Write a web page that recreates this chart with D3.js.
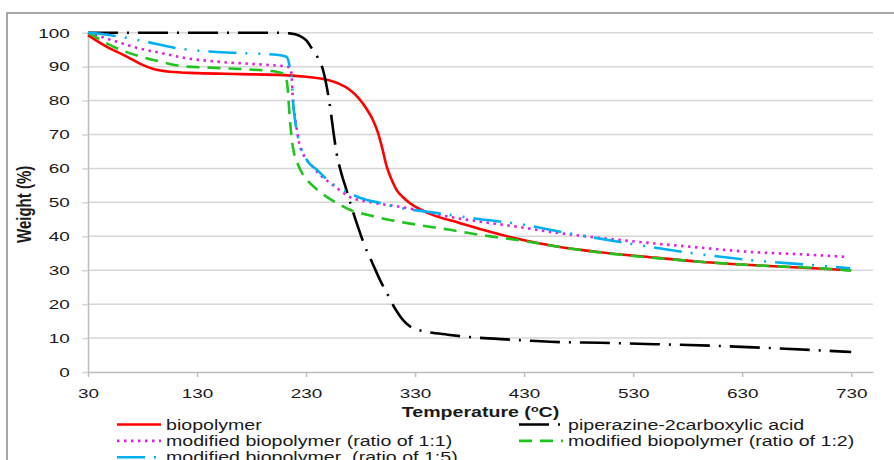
<!DOCTYPE html>
<html>
<head>
<meta charset="utf-8">
<script src="https://cdn.jsdelivr.net/npm/d3@7"></script>
<style>
  body { margin: 0; background: #fff; }
  text { font-family: "Liberation Sans", Arial, sans-serif; fill: #1a1a1a; white-space: pre; }
</style>
</head>
<body>
<script>
// tick labels
const tempTicks = [30, 130, 230, 330, 430, 530, 630, 730];
const weightTicks = [0, 10, 20, 30, 40, 50, 60, 70, 80, 90, 100];

// biopolymer
const bioTemp = [30, 47, 66, 78, 90, 105, 130, 170, 210, 230, 247, 260, 270, 278, 286, 291, 296, 300, 304, 309, 313, 319, 325, 335, 346, 370, 392, 429, 460, 500, 550, 591, 650, 700, 730];
const bioWeight = [99.3, 95.9, 92.9, 90.8, 89.3, 88.5, 88.1, 87.8, 87.5, 87.0, 86.3, 85.0, 83.2, 80.8, 77.3, 74.5, 70.5, 65.8, 60.5, 56.3, 53.7, 51.5, 49.8, 47.9, 46.3, 44.0, 41.9, 38.9, 37.0, 35.3, 33.7, 32.5, 31.3, 30.5, 30.0];

// piperazine-2carboxylic acid
const pipTemp = [30, 100, 180, 203, 215, 224, 230, 236, 241, 246, 249, 252, 255, 258, 262, 267, 272, 278, 284, 291, 298, 305, 312, 319, 326, 334, 341, 360, 380, 420, 454, 500, 550, 607, 660, 730];
const pipWeight = [100, 100, 100, 100, 99.8, 99.1, 97.8, 95, 92.5, 88.5, 84, 78.2, 71, 64.5, 59, 53.7, 48.3, 42.4, 37, 32, 27, 22.7, 18.5, 15.3, 13.3, 12.3, 11.8, 11, 10.3, 9.5, 8.9, 8.6, 8.2, 7.7, 7.0, 5.9];

// modified biopolymer (1:1)
const mod11Temp = [30, 40, 57, 75, 96, 120, 151, 180, 200, 213, 216, 217, 218, 220, 222, 224, 227, 231, 236, 243, 252, 260, 270, 290, 316, 340, 362, 390, 424, 454, 500, 546, 590, 637, 690, 727];
const mod11Weight = [100, 99, 97.3, 95.5, 94.1, 92.5, 91.4, 90.8, 90.4, 90, 89.3, 86, 80, 75, 70.5, 67, 64.5, 62.3, 60.5, 58, 55.7, 53.8, 51.6, 50, 48.7, 47.2, 45.7, 44.3, 42.8, 41.3, 39.5, 38, 36.7, 35.4, 34.6, 33.9];

// modified biopolymer (1:2)
const mod12Temp = [30, 40, 50, 78, 96, 117, 142, 170, 194, 203, 211, 213, 215, 217, 219, 222, 226, 231, 240, 249, 260, 270, 288, 307, 330, 362, 390, 424, 460, 500, 550, 600, 650, 700, 730];
const mod12Weight = [100, 98.2, 96.4, 93, 91.5, 90.1, 89.7, 89.3, 88.8, 88.5, 87.6, 84, 75.2, 68.4, 64.5, 61.6, 58.8, 56.6, 53.8, 51.6, 49.5, 47.8, 46.2, 44.8, 43.5, 41.9, 40.4, 38.9, 37.0, 35.2, 33.6, 32.3, 31.3, 30.6, 29.9];

// modified biopolymer (1:5)
const mod15Temp = [30, 41, 60, 84, 110, 145, 170, 203, 212, 215, 217, 218, 220, 224, 228, 233, 240, 246, 252, 265, 280, 298, 316, 340, 362, 390, 424, 469, 524, 576, 637, 690, 729];
const mod15Weight = [100, 99.7, 98.8, 97.3, 95.5, 94.4, 94, 93.5, 92.9, 90, 85.3, 80, 74, 67.5, 64, 61.5, 59.6, 57.7, 56, 53.5, 51.3, 49.8, 48.4, 47.3, 46.3, 45, 43.7, 41, 38, 35.4, 33, 31.6, 30.6];

const width = 894, height = 460;
const SX = 1.4; // the reference picture is stretched horizontally, text too

const svg = d3.select("body").append("svg")
  .attr("width", width)
  .attr("height", height);

const x = d3.scaleLinear().domain([30, 750]).range([88, 873]);
const y = d3.scaleLinear().domain([0, 100]).range([372, 32.7]);

// chart border (top and left edges only are in the picture)
svg.append("path")
  .attr("d", `M7,${height}V13H${width}`)
  .attr("fill", "none")
  .attr("stroke", "#8c8c8c")
  .attr("stroke-width", 1.5);

// gridlines
svg.append("g")
  .selectAll("line")
  .data(weightTicks.filter(d => d > 0))
  .join("line")
  .attr("x1", x(30))
  .attr("x2", x(750))
  .attr("y1", d => y(d))
  .attr("y2", d => y(d))
  .attr("stroke", "#d6d6d6")
  .attr("stroke-width", 1.5);

// y axis
const yAxis = svg.append("g")
  .attr("transform", `translate(${x(30)},0)`)
  .call(d3.axisLeft(y).tickValues(weightTicks).tickSize(6).tickSizeOuter(0).tickPadding(7));
yAxis.select(".domain").attr("stroke", "#bdbdbd").attr("stroke-width", 1.5);
yAxis.selectAll(".tick line").attr("stroke", "#d6d6d6").attr("stroke-width", 1.5);
yAxis.selectAll("text")
  .attr("transform", `scale(${SX},1)`)
  .style("font-size", "13.5px")
  .style("font-family", null);

// x axis
const xAxis = svg.append("g")
  .attr("transform", `translate(0,${y(0)})`)
  .call(d3.axisBottom(x).tickValues(tempTicks).tickSize(5).tickSizeOuter(0).tickPadding(11));
xAxis.select(".domain").attr("stroke", "#bdbdbd").attr("stroke-width", 1.5);
xAxis.selectAll(".tick line").attr("stroke", "#bdbdbd").attr("stroke-width", 1.5);
xAxis.selectAll("text")
  .attr("transform", `scale(${SX},1)`)
  .style("font-size", "13.5px")
  .style("font-family", null);
svg.selectAll(".tick text").attr("fill", "#1a1a1a");

// axis titles
const xTitle = svg.append("text")
  .attr("transform", `translate(${(x(30) + x(750)) / 2},417) scale(${SX},1)`)
  .attr("text-anchor", "middle")
  .style("font-size", "14px")
  .style("font-weight", "bold");
xTitle.append("tspan").text("Temperature (");
xTitle.append("tspan").attr("dy", -5).style("font-size", "9px").text("o");
xTitle.append("tspan").attr("dy", 5).text("C)");

svg.append("text")
  .attr("transform", `translate(31,${(y(0) + y(100)) / 2 + 2}) scale(${SX},1) rotate(-90)`)
  .attr("text-anchor", "middle")
  .style("font-size", "15px")
  .style("font-weight", "bold")
  .text("Weight (%)");

// series, in drawing order
const series = [
  { name: "biopolymer", temp: bioTemp, weight: bioWeight, color: "#ff0000", dash: null, legend: 0 },
  { name: "piperazine-2carboxylic acid", temp: pipTemp, weight: pipWeight, color: "#000000", dash: "30,9,2,9", legend: 1 },
  { name: "modified biopolymer (ratio of 1:1)", temp: mod11Temp, weight: mod11Weight, color: "#dd22dd", dash: "2.5,4.5", legend: 2 },
  { name: "modified biopolymer (ratio of 1:2)", temp: mod12Temp, weight: mod12Weight, color: "#1fc41f", dash: "13,8", legend: 3 },
  { name: "modified biopolymer  (ratio of 1:5)", temp: mod15Temp, weight: mod15Weight, color: "#00b0f0", dash: "28,9,2,11,2,9", legend: 4 }
];

const line = d3.line()
  .x(d => x(d[0]))
  .y(d => y(d[1]))
  .curve(d3.curveMonotoneX);

svg.append("g")
  .selectAll("path")
  .data(series)
  .join("path")
  .attr("d", d => line(d3.zip(d.temp, d.weight)))
  .attr("fill", "none")
  .attr("stroke", d => d.color)
  .attr("stroke-width", 2.6)
  .attr("stroke-dasharray", d => d.dash);

// legend: two columns, filled row by row
const legend = svg.append("g")
  .selectAll("g")
  .data(series.slice().sort((a, b) => a.legend - b.legend))
  .join("g")
  .attr("transform", (d, i) => `translate(${i % 2 ? 519 : 117},${424.5 + Math.floor(i / 2) * 16.4})`);

legend.append("line")
  .attr("x1", 0)
  .attr("x2", 44)
  .attr("stroke", d => d.color)
  .attr("stroke-width", 2.6)
  .attr("stroke-dasharray", d => d.dash);

legend.append("text")
  .attr("transform", `translate(49,5) scale(${SX},1)`)
  .style("font-size", "14px")
  .text(d => d.name);
</script>
</body>
</html>
